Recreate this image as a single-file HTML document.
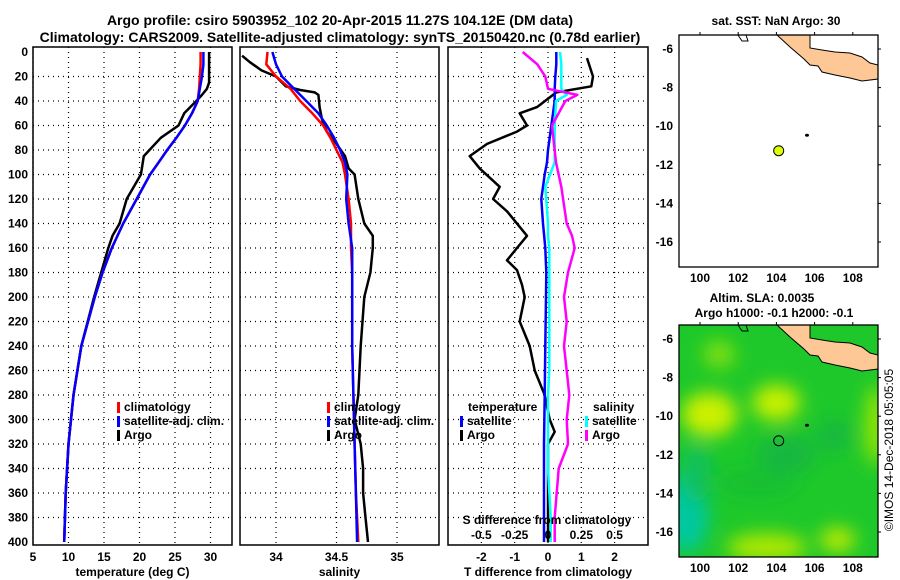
<!DOCTYPE html>
<html><head><meta charset="utf-8"><style>
body{margin:0;background:#fff;}
svg{display:block;font-family:"Liberation Sans",sans-serif;font-weight:bold;}
</style></head><body>
<svg id="c" width="900" height="580" viewBox="0 0 900 580" xmlns="http://www.w3.org/2000/svg">
<text x="340" y="25" font-size="14" text-anchor="middle">Argo profile: csiro 5903952_102 20-Apr-2015 11.27S 104.12E (DM data)</text>
<text x="340" y="42" font-size="14" text-anchor="middle">Climatology: CARS2009. Satellite-adjusted climatology: synTS_20150420.nc (0.78d earlier)</text>
<g id="p1"></g>
<g id="p2"></g>
<g id="p3"></g>
<g id="m1"></g>
<g id="m2"></g>
<text transform="translate(893,450) rotate(-90)" font-size="12" font-weight="normal" text-anchor="middle">©IMOS 14-Dec-2018 05:05:05</text>
</svg>
<script>
// depth levels
const depths = [0,10,20,30,40,50,60,70,80,90,100,120,140,160,180,200,240,280,320,360,400];
const tClim = [28.6,28.6,28.5,28.4,28.2,27.4,26.4,25.2,23.9,22.7,21.5,19.6,17.7,16.1,14.8,13.7,11.8,10.7,10.0,9.6,9.4];
const tSat  = [29.0,29.0,28.8,28.5,28.2,27.4,26.4,25.2,23.9,22.7,21.5,19.6,17.7,16.1,14.8,13.7,11.8,10.7,10.0,9.6,9.4];
const argoTDepths = [0,25,30,35,40,50,60,70,85,100,120,140,150,160,180,200,240,280,320,360,400];
const tArgo = [29.8,29.8,29.5,28.8,28.0,26.3,25.5,23.0,20.6,20.2,18.2,17.2,16.2,15.6,14.6,13.6,11.8,10.7,10.0,9.6,9.4];
const sClim = [33.93,33.92,34.0,34.12,34.2,34.3,34.39,34.45,34.5,34.55,34.57,34.6,34.62,34.62,34.63,34.63,34.63,34.64,34.65,34.66,34.68];
const sSat  = [33.97,34.0,34.05,34.15,34.25,34.35,34.42,34.48,34.53,34.57,34.59,34.58,34.6,34.63,34.63,34.63,34.63,34.64,34.65,34.66,34.67];
const argoSDepths = [3,8,15,20,28,31,33,35,45,55,65,75,85,95,100,120,140,150,160,180,200,240,280,300,320,340,360,380,400];
const sArgo = [33.72,33.78,33.88,34.0,34.08,34.2,34.32,34.35,34.36,34.38,34.42,34.5,34.57,34.6,34.65,34.68,34.73,34.8,34.8,34.78,34.73,34.7,34.68,34.65,34.7,34.72,34.72,34.74,34.76];
const dTDepths = [5,20,28,33,45,50,60,65,75,85,95,110,120,130,150,160,170,178,190,200,220,240,260,280,300,310,320,340,370,400];
const dTArgo = [1.17,1.35,1.3,0.25,-0.33,-0.85,-0.63,-0.93,-1.83,-2.35,-2.05,-1.45,-1.65,-1.23,-0.63,-0.93,-1.23,-0.93,-0.78,-0.7,-0.85,-0.55,-0.4,-0.1,0.05,0.2,0.0,0.0,0.0,0.0];
const dTSat = [0.25,0.25,0.22,0.2,0.2,0.15,0.1,0.05,0.0,-0.03,-0.1,-0.2,-0.15,-0.08,-0.05,-0.06,-0.08,-0.1,-0.12,-0.12,-0.12];
const dSDepths = [0,10,20,30,35,40,60,90,110,140,150,160,180,200,220,240,260,280,300,320,340,380,400];
const dSArgo = [-0.19,-0.08,-0.02,0.0,0.22,0.13,0.03,0.06,0.1,0.14,0.18,0.2,0.15,0.12,0.14,0.12,0.14,0.16,0.14,0.15,0.08,0.05,0.05];
const dSSat  = [0.09,0.1,0.1,0.1,0.14,0.06,0.05,0.05,-0.02,0.0,0.0,0.01,0.01,0.01,0.01,0.01,0.01,0.0,0.0,0.0,0.0,0.02,0.02];
const depthTicks = [0,20,40,60,80,100,120,140,160,180,200,220,240,260,280,300,320,340,360,380,400];
const tTicks = [5,10,15,20,25,30];
const sTicks = [34,34.5,35];
const dTicks = [-2,-1,0,1,2];
const dSTicks = [-0.5,-0.25,0,0.25,0.5];
const lonTicks = [100,102,104,106,108];
const latTicks = [-6,-8,-10,-12,-14,-16];
const argoLon = 104.12, argoLat = -11.27;

const NS="http://www.w3.org/2000/svg";
function mk(parent,tag,attrs,txt){const e=document.createElementNS(NS,tag);for(const k in attrs)e.setAttribute(k,attrs[k]);if(txt!==undefined)e.textContent=txt;parent.appendChild(e);return e;}
const yD = d => 52 + d*1.225;
const TOP=47, BOT=545;
function panel(g,x0,x1,xs,ticks,fmt,xlabel,name){
  ticks.forEach(t=>{const x=xs(t);
    const gl=mk(g,'line',{x1:x,x2:x,y1:TOP,y2:BOT,stroke:'#000','stroke-dasharray':'1 4','stroke-width':1.2});
    
    const tl=mk(g,'text',{x:x,y:561,'font-size':12,'text-anchor':'middle'},fmt(t));
    
  });
  depthTicks.forEach(d=>{const y=yD(d);
    if(d>0&&d<400){const gl=mk(g,'line',{x1:x0,x2:x1,y1:y,y2:y,stroke:'#000','stroke-dasharray':'1 4','stroke-width':1.2});
    }
  });
  const r=mk(g,'rect',{x:x0,y:TOP,width:x1-x0,height:BOT-TOP,fill:'none',stroke:'#000','stroke-width':1.5});
  
  const xl=mk(g,'text',{x:(x0+x1)/2,y:576,'font-size':12,'text-anchor':'middle'},xlabel);
  
}
function line(g,ds,vs,xs,col,w,name){
  const d=ds.map((dd,i)=>(i?'L':'M')+xs(vs[i]).toFixed(1)+','+yD(dd).toFixed(1)).join('');
  const p=mk(g,'path',{d:d,fill:'none',stroke:col,'stroke-width':w,'stroke-linejoin':'round'});
  
}
function legend(g,x,y,items){
  items.forEach((it,i)=>{
    const b=mk(g,'rect',{x:x,y:y+i*14-9,width:3,height:11,fill:it[1]});
    
    const t=mk(g,'text',{x:x+7,y:y+i*14,'font-size':12},it[0]);
    
  });
}
// panel 1
const p1=document.getElementById('p1');
const xT=t=>33+(t-5)*7.1;
panel(p1,33,232,xT,tTicks,t=>t,'temperature (deg C)','temperature');
depthTicks.forEach(d=>{const t=mk(p1,'text',{x:28,y:yD(d)+4,'font-size':12,'text-anchor':'end'},d);
  });
line(p1,argoTDepths,tArgo,xT,'#000',2.5,'argo-temperature-line');
line(p1,depths,tClim,xT,'#f00',2.5,'climatology-temperature-line');
line(p1,depths,tSat,xT,'#00f',2.5,'satellite-temperature-line');
legend(p1,117,411,[['climatology','#f00'],['satellite-adj. clim.','#00f'],['Argo','#000']]);
// panel 2
const p2=document.getElementById('p2');
const xS=s=>276+(s-34)*121;
panel(p2,240,439,xS,sTicks,s=>s,'salinity','salinity');
line(p2,argoSDepths,sArgo,xS,'#000',2.5,'argo-salinity-line');
line(p2,depths,sClim,xS,'#f00',2.5,'climatology-salinity-line');
line(p2,depths,sSat,xS,'#00f',2.5,'satellite-salinity-line');
legend(p2,327,411,[['climatology','#f00'],['satellite-adj. clim.','#00f'],['Argo','#000']]);
// panel 3
const p3=document.getElementById('p3');
const xDT=t=>548+t*33.3, xDS=s=>548+s*133.3;
panel(p3,448,648,xDT,dTicks,t=>t,'T difference from climatology','difference');
line(p3,dTDepths,dTArgo,xDT,'#000',2.5,'argo-temperature-difference');
line(p3,depths,dTSat,xDT,'#00f',2.5,'satellite-temperature-difference');
line(p3,dSDepths,dSSat,xDS,'#0ff',2.5,'satellite-salinity-difference');
line(p3,dSDepths,dSArgo,xDS,'#f0f',2.5,'argo-salinity-difference');
mk(p3,'text',{x:468,y:411,'font-size':12},'temperature');
mk(p3,'text',{x:593,y:411,'font-size':12},'salinity');
legend(p3,460,425,[['satellite','#00f'],['Argo','#000']]);
legend(p3,585,425,[['satellite','#0ff'],['Argo','#f0f']]);
mk(p3,'text',{x:547,y:524,'font-size':12,'text-anchor':'middle'},'S difference from climatology');
dSTicks.forEach(s=>{const t=mk(p3,'text',{x:xDS(s),y:539,'font-size':12,'text-anchor':'middle'},s);
  });
// maps
const MX0=679,MX1=878;
const lonX=l=>700+(l-100)*19.1;
function map(g,y0,y1,latY,bg,title){
  mk(g,'rect',{x:MX0,y:y0,width:MX1-MX0,height:y1-y0,fill:bg});
  if(bg!=='#fff'){
    const dfs=mk(g,'defs',{});const f=mk(dfs,'filter',{id:'bl',x:'-50%',y:'-50%',width:'200%',height:'200%'});mk(f,'feGaussianBlur',{stdDeviation:9});
    const cl=mk(dfs,'clipPath',{id:'mc'});mk(cl,'rect',{x:MX0,y:y0,width:MX1-MX0,height:y1-y0});
    const bg2=mk(g,'g',{'clip-path':'url(#mc)'});const bb=mk(bg2,'g',{filter:'url(#bl)'});
    [[100.5,-9.9,28,22,'#ccf000'],[104,-9.3,24,18,'#c8f000'],[101,-6.8,16,14,'#7fe00a'],[99.3,-15,22,40,'#00c8a0'],[99.8,-13,14,30,'#10c060'],[103.5,-16.8,40,14,'#b0e800'],[107.2,-16.4,18,12,'#c0ea00'],[109.2,-10.5,10,40,'#a0e800'],[104.5,-12,30,20,'#12b840'],[107,-11,18,16,'#12b840'],[103,-13.5,40,14,'#18c030']]
    .forEach(b=>{const e=mk(bb,'ellipse',{cx:lonX(b[0]),cy:latY(b[1]),rx:b[2],ry:b[3],fill:b[4]});});
  }
  const land='M777,'+y0+' L810,'+y0+' L810,'+(y0+13)+' L822,'+(y0+15)+' L835,'+(y0+17)+' L850,'+(y0+18)+' L862,'+(y0+22)+' L870,'+(y0+28)+' L878,'+(y0+30)+' L878,'+(y0+44)+' L862,'+(y0+46)+' L850,'+(y0+43)+' L835,'+(y0+40)+' L822,'+(y0+37)+' L818,'+(y0+31)+' L810,'+(y0+30)+' L804,'+(y0+24)+' L790,'+(y0+12)+' Z';
  const l=mk(g,'path',{d:land,fill:'#fdc896',stroke:'#000','stroke-width':1});
  mk(g,'path',{d:'M738,'+y0+' L742,'+(y0+6)+' L748,'+(y0+6)+' L746,'+y0,fill:'none',stroke:'#000'});
  mk(g,'ellipse',{cx:807,cy:latY(-10.47),rx:2,ry:1.5,fill:'#000'});
  const pt=mk(g,'circle',{cx:lonX(argoLon),cy:latY(argoLat),r:5,fill:bg==='#fff'?'#dfff00':'none',stroke:'#000'});
  
  mk(g,'rect',{x:MX0,y:y0,width:MX1-MX0,height:y1-y0,fill:'none',stroke:'#000','stroke-width':1.3});
  lonTicks.forEach(lo=>{const x=lonX(lo);mk(g,'line',{x1:x,x2:x,y1:y0,y2:y0-3,stroke:'#000'});
    const t=mk(g,'text',{x:x,y:y1+15,'font-size':12,'text-anchor':'middle'},lo);});
  latTicks.forEach(la=>{const y=latY(la);mk(g,'line',{x1:MX1,x2:MX1+3,y1:y,y2:y,stroke:'#000'});
    const t=mk(g,'text',{x:673,y:y+4,'font-size':12,'text-anchor':'end'},la);});
  title.forEach((s,i)=>{const t=mk(g,'text',{x:s[1],y:s[2],'font-size':12,'text-anchor':'middle'},s[0]);});
}
map(document.getElementById('m1'),35,267,la=>49+(-6-la)*19.3,'#fff',[['sat. SST: NaN Argo: 30',776,25]]);
map(document.getElementById('m2'),325,557,la=>339+(-6-la)*19.3,'#1ec82a',[['Altim. SLA: 0.0035',762,302],['Argo h1000: -0.1 h2000: -0.1',774,317]]);
</script>
</body></html>
